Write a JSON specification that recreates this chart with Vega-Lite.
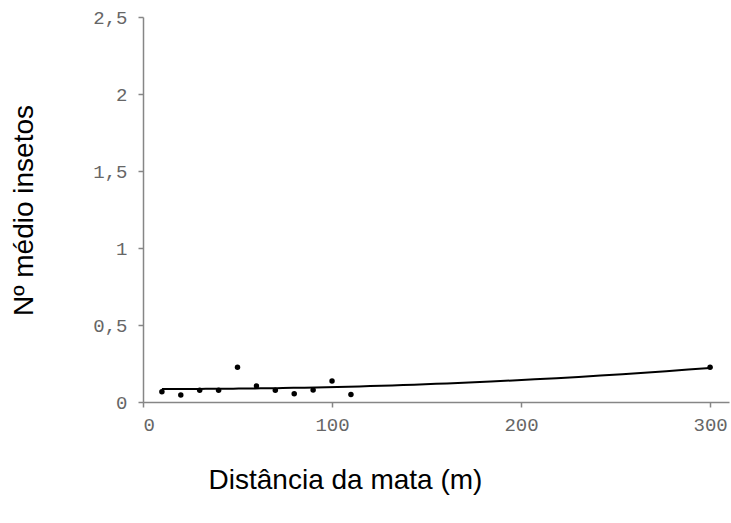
{
  "$schema": "https://vega.github.io/schema/vega-lite/v6.json",
  "width": 586,
  "height": 385,
  "autosize": {"type": "none"},
  "padding": {"left": 143, "top": 17, "right": 2, "bottom": 121},
  "background": "white",
  "config": {
    "view": {"stroke": null},
    "axis": {
      "grid": false,
      "domainColor": "#868686",
      "domainWidth": 1.5,
      "tickColor": "#868686",
      "tickWidth": 1.5,
      "tickSize": 5,
      "labelFont": "Liberation Mono",
      "labelFontSize": 19,
      "labelColor": "#666666",
      "titleFont": "Liberation Sans",
      "titleFontSize": 28,
      "titleFontWeight": "normal",
      "titleColor": "#000000"
    }
  },
  "data": {
    "values": [
      {"dist": 10, "insetos": 0.067},
      {"dist": 20, "insetos": 0.045},
      {"dist": 30, "insetos": 0.076},
      {"dist": 40, "insetos": 0.076},
      {"dist": 50, "insetos": 0.225},
      {"dist": 60, "insetos": 0.104},
      {"dist": 70, "insetos": 0.076},
      {"dist": 80, "insetos": 0.054},
      {"dist": 90, "insetos": 0.078},
      {"dist": 100, "insetos": 0.136},
      {"dist": 110, "insetos": 0.048},
      {"dist": 300, "insetos": 0.225}
    ]
  },
  "layer": [
    {
      "transform": [
        {"regression": "insetos", "on": "dist", "method": "poly", "order": 2, "extent": [10, 300]}
      ],
      "mark": {"type": "line", "color": "#000000", "strokeWidth": 2},
      "encoding": {
        "x": {"field": "dist", "type": "quantitative"},
        "y": {"field": "insetos", "type": "quantitative"}
      }
    },
    {
      "mark": {"type": "circle", "color": "#000000", "opacity": 1, "size": 30},
      "encoding": {
        "x": {
          "field": "dist",
          "type": "quantitative",
          "scale": {"domain": [0, 310], "nice": false, "zero": true},
          "axis": {
            "values": [0, 100, 200, 300],
            "labelPadding": 8,
            "title": "Distância da mata (m)",
            "titleX": 202,
            "titleY": 78,
            "titleAlign": "center",
            "titleBaseline": "middle",
            "titleAnchor": null
          }
        },
        "y": {
          "field": "insetos",
          "type": "quantitative",
          "scale": {"domain": [0, 2.5], "nice": false},
          "axis": {
            "values": [0, 0.5, 1, 1.5, 2, 2.5],
            "labelExpr": "replace(format(datum.value, '~g'), '.', ',')",
            "labelPadding": 11,
            "title": "Nº médio insetos",
            "titleX": -119,
            "titleY": 193,
            "titleAlign": "center",
            "titleBaseline": "middle",
            "titleAnchor": null
          }
        }
      }
    }
  ]
}
